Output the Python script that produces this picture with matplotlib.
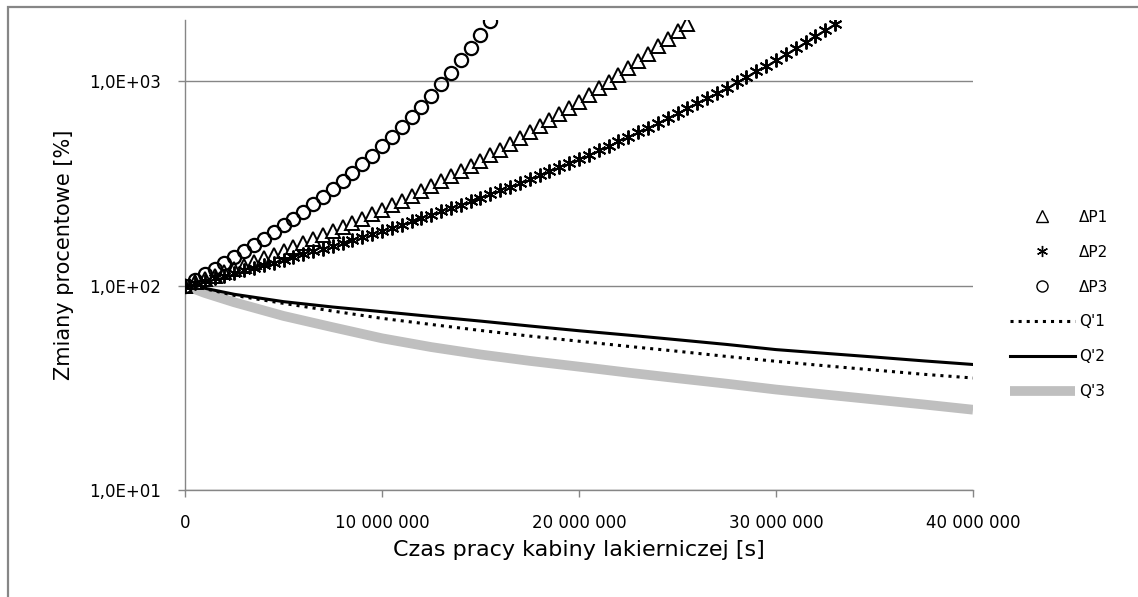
import numpy as np
import matplotlib.pyplot as plt
from matplotlib.patches import Rectangle

# ── Data ──────────────────────────────────────────────────────────────────────
STEP = 500_000          # spacing of the markers along the time axis [s]

# ΔP1 (triangles), 0 .. 25.5e6 s
dp1 = [100.0, 103.7, 107.5, 111.6, 115.9, 120.4, 125.2, 130.3, 135.7, 141.4,
       147.5, 153.9, 160.8, 168.0, 175.8, 184.0, 192.8, 202.2, 212.2, 222.9,
       234.4, 246.7, 259.9, 274.1, 289.3, 305.6, 323.2, 342.2, 362.6, 384.7,
       408.5, 434.5, 462.3, 492.6, 525.6, 561.4, 600.2, 642.7, 688.9, 739.2,
       794.3, 854.9, 920.8, 993.1, 1072.7, 1160.3, 1256.7, 1362.7, 1480.2,
       1609.6, 1753.2, 1911.3]

# ΔP2 (asterisks), 0 .. 33e6 s
dp2 = [100.0, 102.8, 105.7, 108.8, 111.9, 115.2, 118.6, 122.1, 125.8, 129.6,
       133.6, 137.8, 142.2, 146.8, 151.6, 156.5, 161.7, 167.1, 172.9, 178.9,
       185.2, 191.8, 198.7, 206.0, 213.7, 221.8, 230.3, 239.3, 248.8, 258.8,
       269.3, 280.5, 292.4, 304.9, 318.2, 332.3, 347.2, 363.1, 379.9, 397.8,
       416.9, 437.2, 458.8, 481.9, 506.6, 532.9, 561.0, 591.2, 623.5, 658.1,
       695.3, 735.2, 778.1, 824.1, 873.8, 927.4, 985.0, 1047.3, 1114.6, 1187.3,
       1266.4, 1351.6, 1443.8, 1544.6, 1654.0, 1773.3, 1902.1]

# ΔP3 (circles), 0 .. 15.5e6 s
dp3 = [100.0, 106.4, 113.4, 120.9, 129.0, 137.9, 147.6, 158.1, 169.7, 182.6,
       196.7, 212.4, 229.9, 249.4, 271.3, 295.9, 323.7, 355.1, 391.0, 431.9,
       478.6, 532.5, 594.7, 667.0, 750.8, 849.0, 964.3, 1100.0, 1262.0, 1454.0,
       1684.0, 1960.0]

# Q' lines
t_q = [0, 1e6, 2.5e6, 5e6, 7.5e6, 10e6, 12.5e6, 15e6, 17.5e6, 20e6, 22.5e6,
       25e6, 27.5e6, 30e6, 32.5e6, 35e6, 37.5e6, 40e6]
q1 = [100, 96.5, 89.5, 81.8, 75.0, 69.1, 64.5, 60.3, 56.6, 53.4, 50.4, 47.7,
      45.0, 42.6, 40.5, 38.6, 36.8, 35.3]
q2 = [100, 97.0, 90.6, 83.4, 78.5, 74.5, 70.6, 67.0, 63.4, 60.1, 57.2, 54.3,
      51.5, 48.6, 46.6, 44.7, 42.8, 41.1]
q3 = [100, 92.0, 82.8, 71.0, 62.5, 55.2, 50.0, 46.0, 42.8, 40.1, 37.5, 35.2,
      33.1, 31.0, 29.3, 27.7, 26.2, 24.7]

x_ticks = [0, 10e6, 20e6, 30e6, 40e6]
x_ticklabels = ["0", "10 000 000", "20 000 000", "30 000 000", "40 000 000"]
y_ticks = [10, 100, 1000]
y_ticklabels = ["1,0E+01", "1,0E+02", "1,0E+03"]

# ── Plotting ──────────────────────────────────────────────────────────────────
W, H = 1138, 597
fig = plt.figure(figsize=(W / 100, H / 100), dpi=100)
ax = fig.add_axes([185 / W, 1 - 490 / H, (973 - 185) / W, (490 - 19.5) / H])

GRID = "#868686"

t1 = np.arange(len(dp1)) * STEP
t2 = np.arange(len(dp2)) * STEP
t3 = np.arange(len(dp3)) * STEP

ax.plot(t1, dp1, ls="none", marker="^", ms=10, mfc="white", mec="black",
        mew=1.4, label="ΔP1", zorder=4)
ax.plot(t2, dp2, ls="none", marker=(6, 2, 0), ms=10, mec="black",
        mew=1.4, label="ΔP2", zorder=4)
ax.plot(t3, dp3, ls="none", marker="o", ms=9.5, mfc="none", mec="black",
        mew=1.6, label="ΔP3", zorder=4)
ax.plot(t_q, q1, ls=":", lw=2.2, color="black", label="Q'1", zorder=3)
ax.plot(t_q, q2, ls="-", lw=2.2, color="black", label="Q'2", zorder=3)
ax.plot(t_q, q3, ls="-", lw=7, color="#bfbfbf", label="Q'3", zorder=2,
        solid_capstyle="butt")

ax.set_yscale("log")
ax.set_xlim(0, 40e6)
ax.set_ylim(10, 2000)
ax.minorticks_off()

ax.set_xticks(x_ticks)
ax.set_xticklabels(x_ticklabels)
ax.set_yticks(y_ticks)
ax.set_yticklabels(y_ticklabels)
ax.tick_params(axis="both", colors=GRID, labelcolor="black", labelsize=12,
               length=5, width=1)
ax.tick_params(axis="x", pad=12)
ax.tick_params(axis="y", pad=12)

ax.yaxis.grid(True, color=GRID, lw=1)
ax.set_axisbelow(True)
for side in ("top", "right"):
    ax.spines[side].set_visible(False)
for side in ("left", "bottom"):
    ax.spines[side].set_color(GRID)
    ax.spines[side].set_linewidth(1)

ax.set_xlabel("Czas pracy kabiny lakierniczej [s]", fontsize=16, labelpad=6)
ax.set_ylabel("Zmiany procentowe [%]", fontsize=15, labelpad=11)

# legend shows smaller markers, as in the reference
handles, labels = ax.get_legend_handles_labels()
leg = ax.legend(handles, labels, loc="center left",
                bbox_to_anchor=(1010 / W, 1 - 304.5 / H),
                bbox_transform=fig.transFigure, frameon=False, fontsize=11,
                handlelength=4.25, handletextpad=0.25, labelspacing=1.3,
                borderpad=0, borderaxespad=0, numpoints=1)
for h in leg.legend_handles[:3]:
    h.set_markersize(8)
    h.set_markeredgewidth(1.0)

# thin grey frame around the chart (only top and left edges are visible)
fig.add_artist(Rectangle((8 / W, -0.1), 1.2, 1.1 - 7 / H,
                         transform=fig.transFigure, fill=False,
                         edgecolor=GRID, lw=1.6, clip_on=False))

fig.savefig("out.png", dpi=100, facecolor="white")
